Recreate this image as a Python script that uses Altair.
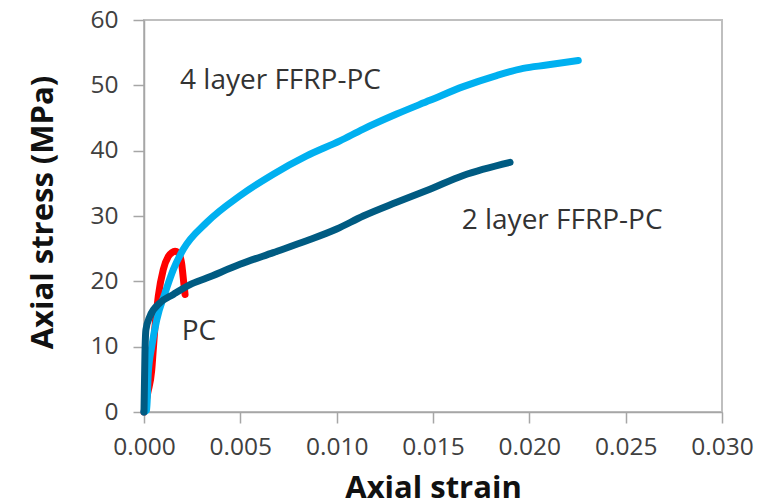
import altair as alt
import pandas as pd

# PC (plain concrete) curve
pc_strain = [0, 0.0002, 0.0004, 0.00048, 0.00057, 0.00074, 0.0010, 0.00126, 0.00145,
             0.00161, 0.00177, 0.00187, 0.00195, 0.00201, 0.00207, 0.00213]
pc_stress = [0, 3.0, 6.4, 9.5, 13.1, 17.7, 21.8, 23.8, 24.4,
             24.6, 24.4, 23.8, 22.8, 21.3, 19.6, 18.0]

# 4 layer FFRP-PC curve
four_strain = [0, 0.00014, 0.00022, 0.0004, 0.00066, 0.00109, 0.00152, 0.00204, 0.00325,
               0.00498, 0.00671, 0.00844, 0.01017, 0.01138, 0.01311, 0.01484, 0.01657,
               0.0183, 0.01968, 0.0209, 0.02254]
four_stress = [0, 0.3, 5.9, 10.0, 14.1, 18.2, 21.8, 24.9, 29.0,
               33.1, 36.4, 39.2, 41.5, 43.3, 45.6, 47.7, 49.8,
               51.5, 52.6, 53.1, 53.8]

# 2 layer FFRP-PC curve
two_strain = [0, 0.00005, 0.0001, 0.0003, 0.00083, 0.00152, 0.00239, 0.00325, 0.00498,
              0.00671, 0.00844, 0.0100, 0.01138, 0.01311, 0.01484, 0.01657, 0.0190]
two_stress = [0, 9.0, 12.6, 14.6, 16.7, 18.0, 19.5, 20.5, 22.6,
              24.4, 26.2, 28.0, 30.0, 32.1, 34.1, 36.2, 38.2]

# annotation labels
label_text = ["4 layer FFRP-PC", "2 layer FFRP-PC", "PC"]
label_strain = [0.00187, 0.01649, 0.00196]
label_stress = [49.5, 27.95, 11.0]

x_ticks = [0, 0.005, 0.010, 0.015, 0.020, 0.025, 0.030]
y_ticks = [0, 10, 20, 30, 40, 50, 60]

FONT = "Open Sans"


def curve_df(xs, ys):
    return pd.DataFrame({"strain": xs, "stress": ys, "i": list(range(len(xs)))})


x_enc = alt.X(
    "strain:Q",
    scale=alt.Scale(domain=[0, 0.03], nice=False, zero=False),
    axis=alt.Axis(
        values=x_ticks, format=".3f", title="Axial strain",
        titleX=289, titleY=85, titleAlign="center", titleBaseline="alphabetic",
        labelPadding=12, labelOverlap=False, labelFlush=False,
    ),
)
y_enc = alt.Y(
    "stress:Q",
    scale=alt.Scale(domain=[0, 60], nice=False),
    axis=alt.Axis(
        values=y_ticks, title="Axial stress (MPa)",
        titleX=-92, titleY=192, titleAngle=270, titleAlign="center",
        titleBaseline="alphabetic", labelPadding=15,
        labelOverlap=False, labelFlush=False,
    ),
)


def line_layer(xs, ys, color):
    return alt.Chart(curve_df(xs, ys)).mark_line(
        color=color, strokeWidth=7, strokeCap="round", strokeJoin="round",
        interpolate="monotone",
    ).encode(x=x_enc, y=y_enc, order="i:Q")


pc = line_layer(pc_strain, pc_stress, "#FF0000")
four = line_layer(four_strain, four_stress, "#00B0F0")
two = line_layer(two_strain, two_stress, "#005B82")

labels = alt.Chart(pd.DataFrame({
    "text": label_text, "strain": label_strain, "stress": label_stress
})).mark_text(
    align="left", baseline="alphabetic", font=FONT, fontSize=28, color="#333333"
).encode(x="strain:Q", y="stress:Q", text="text:N")

chart = alt.layer(pc, four, two, labels).properties(
    width=578, height=392,
    autosize=alt.AutoSizeParams(type="none"),
    padding={"left": 136, "top": 12, "right": 52, "bottom": 91},
).configure_view(
    stroke="#BFBFBF", strokeWidth=2
).configure_axis(
    grid=False,
    domainColor="#A6A6A6", domainWidth=1.5,
    tickColor="#A6A6A6", tickWidth=1.5, tickSize=11,
    labelFont=FONT, labelFontSize=24.5, labelColor="#404040",
    titleFont=FONT, titleFontSize=31, titleFontWeight="bold", titleColor="#111111",
)

chart.save("out.html", embed_options={"renderer": "svg", "actions": False})
